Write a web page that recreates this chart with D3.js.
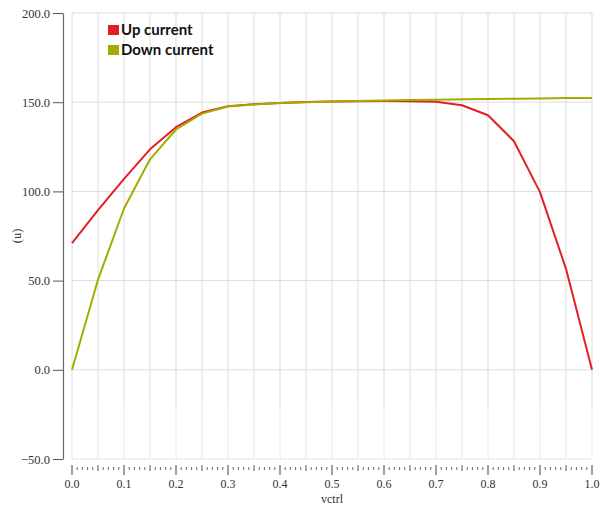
<!DOCTYPE html>
<html>
<head>
<meta charset="utf-8">
<script src="https://cdn.jsdelivr.net/npm/d3@7"></script>
<style>
  html, body { margin: 0; padding: 0; background: #fff; }
  svg { display: block; }
</style>
</head>
<body>
<svg id="chart" width="610" height="506"></svg>
<script>
// Sweep of the control voltage (V)
const vctrl = [0.0, 0.05, 0.1, 0.15, 0.2, 0.25, 0.3, 0.35, 0.4, 0.45, 0.5,
               0.55, 0.6, 0.65, 0.7, 0.75, 0.8, 0.85, 0.9, 0.95, 1.0];
// Charge-pump currents (uA)
const upCurrent = [71, 89.5, 107, 123.6, 136, 144.2, 147.8, 148.8, 149.6, 150.1, 150.4,
                   150.6, 150.7, 150.6, 150.2, 148.3, 142.7, 128.1, 99.6, 56.6, 0];
const downCurrent = [0, 50.5, 90.4, 118, 134.7, 143.6, 147.6, 148.7, 149.5, 150, 150.4,
                     150.7, 151, 151.2, 151.4, 151.6, 151.8, 152, 152.1, 152.3, 152.4];
const yTicks = [-50, 0, 50, 100, 150, 200];
const xTicks = [0, 0.1, 0.2, 0.3, 0.4, 0.5, 0.6, 0.7, 0.8, 0.9, 1.0];
const seriesNames = ["Up current", "Down current"];
const seriesColors = ["#e41e26", "#a3ad00"];

const svg = d3.select("#chart");
const plotLeft = 72, plotRight = 592, plotTop = 13, plotBottom = 459;

const x = d3.scaleLinear().domain([0, 1]).range([plotLeft, plotRight]);
const y = d3.scaleLinear().domain([-50, 200]).range([plotBottom, plotTop]);

const serif = "'Liberation Serif', 'Times New Roman', serif";

// Grid: vertical lines every 0.05, solid above -20 and dotted below
const gridX = d3.range(0, 21).map(i => i * 0.05);
const grid = svg.append("g");
grid.selectAll("line.vs").data(gridX).join("line").attr("class", "vs")
  .attr("x1", d => x(d)).attr("x2", d => x(d))
  .attr("y1", y(200)).attr("y2", y(-20))
  .attr("stroke", "#dcdcdc").attr("stroke-width", 1);
grid.selectAll("line.vd").data(gridX).join("line").attr("class", "vd")
  .attr("x1", d => x(d)).attr("x2", d => x(d))
  .attr("y1", y(-20)).attr("y2", y(-50))
  .attr("stroke", "#d4d4d4").attr("stroke-width", 1)
  .attr("stroke-dasharray", "1,1");
grid.selectAll("line.h").data(yTicks.filter(d => d > -50)).join("line").attr("class", "h")
  .attr("x1", plotLeft).attr("x2", plotRight)
  .attr("y1", d => y(d)).attr("y2", d => y(d))
  .attr("stroke", "#dcdcdc").attr("stroke-width", 1);
grid.append("line")
  .attr("x1", plotLeft).attr("x2", plotRight)
  .attr("y1", y(-50)).attr("y2", y(-50))
  .attr("stroke", "#c8c8c8").attr("stroke-dasharray", "1,1");

// Y axis, detached to the left of the plot
const yAxis = d3.axisLeft(y).tickValues(yTicks).tickFormat(d3.format(".1f"))
  .tickSize(10).tickPadding(3).tickSizeOuter(0);
const gy = svg.append("g").attr("transform", "translate(63,0)").call(yAxis);
gy.select(".domain").attr("stroke", "#666").attr("stroke-width", 1.2);
gy.selectAll(".tick line").attr("stroke", "#555");
gy.selectAll("text").attr("font-family", serif).attr("font-size", 12.5).attr("fill", "#333");

// X axis ticks: major every 0.1, medium at 0.05, minor at 0.01
const gx = svg.append("g").attr("transform", "translate(0,465)");
const minorX = d3.range(0, 101).filter(i => i % 5 !== 0).map(i => i / 100);
gx.selectAll("line.minor").data(minorX).join("line").attr("class", "minor")
  .attr("x1", d => x(d)).attr("x2", d => x(d))
  .attr("y1", 2).attr("y2", 5).attr("stroke", "#666");
gx.selectAll("line.mid").data(d3.range(1, 20, 2).map(i => i * 0.05)).join("line").attr("class", "mid")
  .attr("x1", d => x(d)).attr("x2", d => x(d))
  .attr("y1", 0).attr("y2", 6).attr("stroke", "#555");
gx.selectAll("line.major").data(xTicks).join("line").attr("class", "major")
  .attr("x1", d => x(d)).attr("x2", d => x(d))
  .attr("y1", 0).attr("y2", 10).attr("stroke", "#444");
gx.selectAll("text").data(xTicks).join("text")
  .attr("x", d => x(d)).attr("y", 23)
  .attr("text-anchor", "middle")
  .attr("font-family", serif).attr("font-size", 12).attr("fill", "#333")
  .text(d3.format(".1f"));

// Axis titles
svg.append("text").attr("x", x(0.5)).attr("y", 503)
  .attr("text-anchor", "middle").attr("font-family", serif).attr("font-size", 12)
  .attr("fill", "#333").text("vctrl");
svg.append("text").attr("transform", `translate(21,${y(75)}) rotate(-90)`)
  .attr("text-anchor", "middle").attr("font-family", serif).attr("font-size", 12.5)
  .attr("fill", "#333").text("(u)");

// Curves
const line = d3.line().x((d, i) => x(vctrl[i])).y(d => y(d));
[upCurrent, downCurrent].forEach((s, k) => {
  svg.append("path").datum(s)
    .attr("d", line)
    .attr("fill", "none")
    .attr("stroke", seriesColors[k])
    .attr("stroke-width", 2)
    .attr("stroke-linejoin", "round");
});

// Legend
const legend = svg.append("g").attr("transform", "translate(108,25)");
seriesNames.forEach((name, k) => {
  const g = legend.append("g").attr("transform", `translate(0,${k * 20})`);
  g.append("rect").attr("width", 11).attr("height", 10).attr("fill", seriesColors[k]);
  g.append("text").attr("x", 13).attr("y", 10)
    .attr("font-family", "Lato, 'Open Sans', sans-serif").attr("font-weight", "bold")
    .attr("font-size", 15).attr("fill", "#111").text(name);
});
</script>
</body>
</html>
